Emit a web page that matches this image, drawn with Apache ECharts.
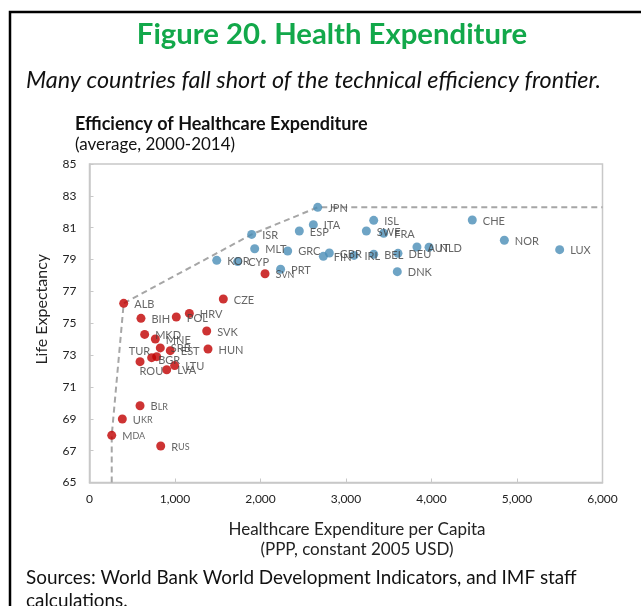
<!DOCTYPE html>
<html>
<head>
<meta charset="utf-8">
<script src="https://cdn.jsdelivr.net/npm/echarts@6/dist/echarts.min.js"></script>
<style>
  html, body { margin: 0; padding: 0; background: #fff; }
  #chart { width: 641px; height: 606px; }
</style>
</head>
<body>
<div id="chart"></div>
<script>
// Advanced economies (blue markers)
const advCodes = ['JPN','ITA','ESP','ISR','MLT','GRC','KOR','CYP','PRT','FIN','GBR','IRL','BEL','DEU','AUT','NLD','ISL','SWE','FRA','CHE','NOR','LUX','DNK'];
const advSpending = [2669,2618,2454,1897,1932,2318,1488,1733,2235,2735,2805,3094,3324,3608,3830,3971,3324,3238,3441,4477,4852,5499,3600];
const advLife = [82.28,81.19,80.79,80.58,79.68,79.54,78.95,78.87,78.39,79.20,79.41,79.26,79.33,79.39,79.79,79.77,81.46,80.79,80.65,81.48,80.21,79.62,78.24];

// Emerging Europe (red markers)
const emgCodes = ['SVN','ALB','CZE','BIH','POL','HRV','SVK','MKD','MNE','HUN','SRB','EST','TUR','BGR','ROU','LTU','LVA','BLR','UKR','MDA','RUS'];
const emgSpending = [2053,400,1565,602,1015,1168,1371,645,770,1386,828,945,727,786,591,996,903,591,384,260,833];
const emgLife = [78.11,76.25,76.52,75.31,75.39,75.62,74.51,74.30,74.01,73.38,73.45,73.28,72.84,72.90,72.59,72.34,72.08,69.82,68.99,67.96,67.29];

// Countries that define the efficiency frontier, in order
const frontierCodes = ['MDA','ALB','ISR','JPN'];

// Axis ranges and ticks
const xMin = 0, xMax = 6000, xStep = 1000;
const yMin = 65, yMax = 85, yStep = 2;

// Labels that do not sit to the right of their marker
const labelShift = {
  TUR: { position: 'left', offset: [9, -6] },
  BGR: { offset: [-9, 4] },
  ROU: { offset: [-11, 10] }
};
// Labels printed in small capitals
const smallCaps = ['SVN','BLR','UKR','MDA','RUS'];

const labelFont = 'Lato, "Open Sans", sans-serif';

function lookup(code) {
  let i = advCodes.indexOf(code);
  if (i >= 0) return [advSpending[i], advLife[i]];
  i = emgCodes.indexOf(code);
  return [emgSpending[i], emgLife[i]];
}

function buildPoints(codes, xs, ys) {
  return codes.map((c, i) => {
    const p = { name: c, value: [xs[i], ys[i]] };
    const s = labelShift[c];
    if (s) {
      p.label = { position: s.position || 'right', offset: s.offset };
    }
    return p;
  });
}

function labelText(p) {
  const n = p.name;
  if (smallCaps.indexOf(n) >= 0) return '{a|' + n[0] + '}{b|' + n.slice(1) + '}';
  return '{a|' + n + '}';
}

const frontierPts = [];
{
  const first = lookup(frontierCodes[0]);
  frontierPts.push([first[0], yMin]);
  frontierCodes.forEach(c => frontierPts.push(lookup(c)));
  const last = lookup(frontierCodes[frontierCodes.length - 1]);
  frontierPts.push([xMax, last[1]]);
}

const pointLabel = {
  show: true,
  position: 'right',
  distance: 6,
  offset: [0, 1],
  formatter: labelText,
  rich: {
    a: { fontFamily: labelFont, fontSize: 11, color: '#404040' },
    b: { fontFamily: labelFont, fontSize: 9, color: '#404040' }
  }
};

const chart = echarts.init(document.getElementById('chart'), null, { renderer: 'canvas' });

chart.setOption({
  animation: false,
  backgroundColor: '#ffffff',
  grid: {
    left: 89.5, top: 164, right: 38.5, bottom: 123.5,
    show: true, borderColor: '#c8c8c8', borderWidth: 1.5, backgroundColor: 'transparent'
  },
  xAxis: {
    type: 'value', min: xMin, max: xMax, interval: xStep,
    name: 'Healthcare Expenditure per Capita\n(PPP, constant 2005 USD)',
    nameLocation: 'middle', nameGap: 37,
    nameTextStyle: { fontFamily: labelFont, fontSize: 17, color: '#222', lineHeight: 20, padding: [0, 0, 0, 22] },
    axisLine: { lineStyle: { color: '#c8c8c8', width: 1.5 } },
    axisTick: { show: true, inside: true, length: 4, lineStyle: { color: '#c8c8c8' } },
    splitLine: { show: false },
    axisLabel: {
      margin: 11, fontFamily: labelFont, fontSize: 12, color: '#222',
      formatter: v => v.toLocaleString('en-US')
    }
  },
  yAxis: {
    type: 'value', min: yMin, max: yMax, interval: yStep,
    name: 'Life Expectancy',
    nameLocation: 'middle', nameGap: 40, nameRotate: 90,
    nameTextStyle: { fontFamily: labelFont, fontSize: 16, color: '#222', padding: [0, 0, 0, 28] },
    axisLine: { show: true, lineStyle: { color: '#c8c8c8', width: 1.5 } },
    axisTick: { show: true, inside: true, length: 4, lineStyle: { color: '#c8c8c8' } },
    splitLine: { show: false },
    axisLabel: { margin: 13, fontFamily: labelFont, fontSize: 12, color: '#222' }
  },
  graphic: [
    { type: 'rect', shape: { x: 10, y: 12, width: 700, height: 700 }, style: { fill: 'none', stroke: '#000', lineWidth: 2.5 }, silent: true },
    { type: 'text', x: 332, y: 35, style: { text: 'Figure 20. Health Expenditure', fontFamily: labelFont, fontWeight: 'bold', fontSize: 29.3, fill: '#12a84a', align: 'center', verticalAlign: 'middle' } },
    { type: 'text', x: 26, y: 80, style: { text: 'Many countries fall short of the technical efficiency frontier.', fontFamily: labelFont, fontStyle: 'italic', fontSize: 23.4, fill: '#111', align: 'left', verticalAlign: 'middle' } },
    { type: 'text', x: 75, y: 124, style: { text: 'Efficiency of Healthcare Expenditure', fontFamily: labelFont, fontWeight: 'bold', fontSize: 18, fill: '#111', align: 'left', verticalAlign: 'middle' } },
    { type: 'text', x: 75, y: 145, style: { text: '(average, 2000-2014)', fontFamily: labelFont, fontSize: 17, fill: '#111', align: 'left', verticalAlign: 'middle' } },
    { type: 'text', x: 26, y: 578, style: { text: 'Sources: World Bank World Development Indicators, and IMF staff', fontFamily: labelFont, fontSize: 18.9, fill: '#111', align: 'left', verticalAlign: 'middle' } },
    { type: 'text', x: 26, y: 601, style: { text: 'calculations.', fontFamily: labelFont, fontSize: 18.9, fill: '#111', align: 'left', verticalAlign: 'middle' } }
  ],
  series: [
    {
      name: 'Frontier', type: 'line', data: frontierPts, symbol: 'none', z: 1,
      lineStyle: { color: '#a6a6a6', width: 2, type: [6, 4] }
    },
    {
      name: 'Advanced', type: 'scatter', symbolSize: 9, z: 3,
      itemStyle: { color: '#4a8db6' },
      label: pointLabel,
      data: buildPoints(advCodes, advSpending, advLife)
    },
    {
      name: 'Emerging', type: 'scatter', symbolSize: 9, z: 3,
      itemStyle: { color: '#c00000' },
      label: pointLabel,
      data: buildPoints(emgCodes, emgSpending, emgLife)
    }
  ]
});
</script>
</body>
</html>
